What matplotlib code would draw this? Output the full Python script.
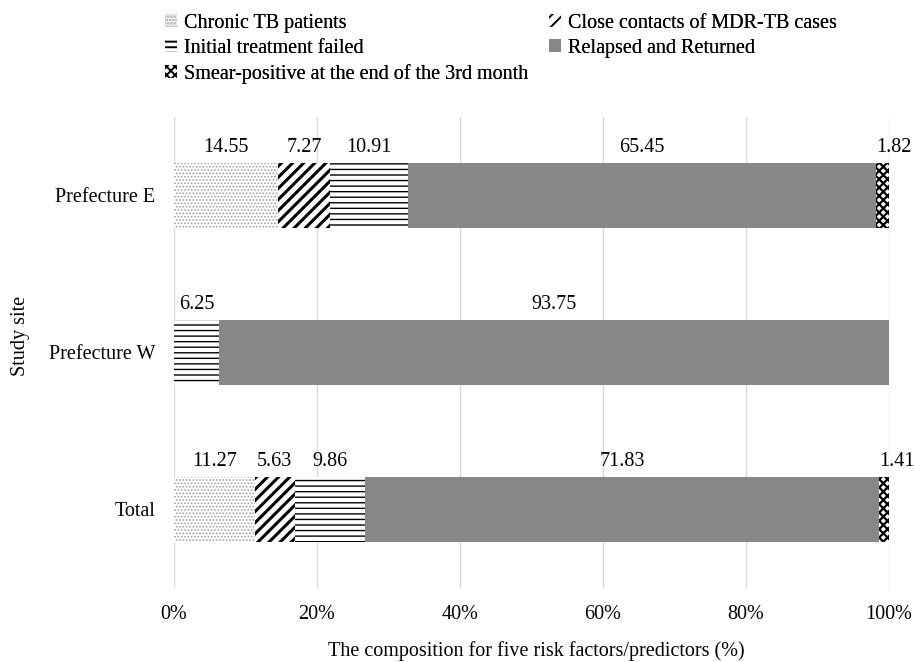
import numpy as np
import matplotlib.pyplot as plt

plt.rcParams['font.family'] = ['Liberation Serif', 'DejaVu Serif']

# data
sites = ["Prefecture E", "Prefecture W", "Total"]
categories = ["Chronic TB patients", "Close contacts of MDR-TB cases",
              "Initial treatment failed", "Relapsed and Returned",
              "Smear-positive at the end of the 3rd month"]
chronic = [14.55, 0, 11.27]
contacts = [7.27, 0, 5.63]
failed = [10.91, 6.25, 9.86]
relapsed = [65.45, 93.75, 71.83]
smear = [1.82, 0, 1.41]
ticks = [0, 20, 40, 60, 80, 100]

series = [chronic, contacts, failed, relapsed, smear]
styles = [dict(color='white', edgecolor='#a0a0a0', hatch='.....'),
          dict(color='white', edgecolor='black', hatch='///'),
          dict(color='white', edgecolor='black', hatch='---'),
          dict(color='#878787', edgecolor='#878787', hatch=None),
          dict(color='white', edgecolor='black', hatch='xxxx')]
hatch_lw = [0.8, 2.2, 1.0, 1.0, 1.6]
fs = 14.5

fig = plt.figure(figsize=(9.15, 6.62), dpi=100)
ax = fig.add_axes([0.1902, 0.1118, 0.7814, 0.7115])

y = np.arange(len(sites))
left = np.zeros(len(sites))
handles = []
for vals, name, st, hl in zip(series, categories, styles, hatch_lw):
    with plt.rc_context({'hatch.linewidth': hl}):
        b = ax.barh(y, vals, left=left, height=0.41, linewidth=0, label=name, **st)
    handles.append(b)
    for i, v in enumerate(vals):
        if v <= 0:
            continue
        # narrow segments get their label starting at the segment edge
        if v < 3:
            ax.text(left[i], y[i] - 0.28, f"{v:.2f}", ha='left', va='baseline', fontsize=fs)
        else:
            ax.text(left[i] + v / 2, y[i] - 0.28, f"{v:.2f}", ha='center', va='baseline', fontsize=fs)
    left = left + np.array(vals)

ax.set_xlim(0, 100)
ax.set_ylim(2.5, -0.5)
ax.set_yticks(y)
ax.set_yticklabels(sites, fontsize=fs)
ax.set_xticks(ticks)
ax.set_xticklabels([f"{v}%" for v in ticks], fontsize=fs)
ax.tick_params(axis='y', length=0, pad=13.5)
ax.tick_params(axis='x', length=0, pad=12)
ax.xaxis.grid(True, color='#d9d9d9', linewidth=1)
ax.set_axisbelow(True)
for sp in ax.spines.values():
    sp.set_visible(False)

fig.text(0.586, 1 - 656 / 662, "The composition for five risk factors/predictors (%)",
         ha='center', va='baseline', fontsize=fs)
fig.text(20 / 915, 1 - 336 / 662, "Study site", rotation=90, ha='center', va='center', fontsize=fs)

leg_kw = dict(loc='upper left', frameon=False, fontsize=fs, borderpad=0,
              borderaxespad=0, handlelength=0.62, handleheight=0.62,
              handletextpad=0.3, labelspacing=0.3)
col1 = [0, 2, 4]
col2 = [1, 3]
for cols, x0 in [(col1, 165 / 915), (col2, 549 / 915)]:
    with plt.rc_context({'hatch.linewidth': 1.4}):
        leg = fig.legend([handles[k] for k in cols], [categories[k] for k in cols],
                         bbox_to_anchor=(x0, 0.979), **leg_kw)
    fig.add_artist(leg)

fig.savefig("out.png", dpi=100)
